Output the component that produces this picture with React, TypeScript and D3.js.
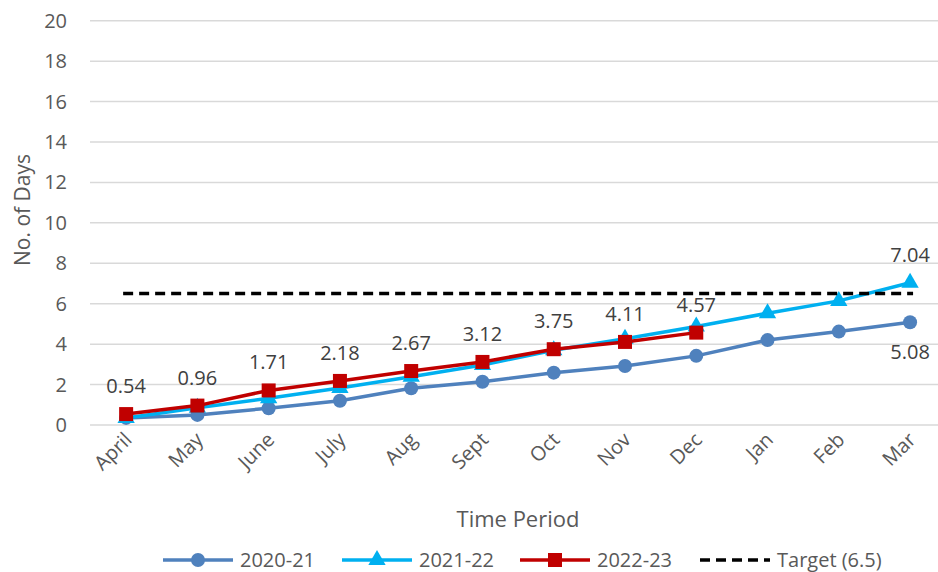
import React from "react";
import * as d3 from "d3";

const months = ["April", "May", "June", "July", "Aug", "Sept", "Oct", "Nov", "Dec", "Jan", "Feb", "Mar"];
const s2020: number[] = [0.35, 0.5, 0.83, 1.2, 1.82, 2.14, 2.59, 2.92, 3.42, 4.2, 4.62, 5.08];
const s2021: number[] = [0.35, 0.85, 1.32, 1.83, 2.39, 2.97, 3.7, 4.27, 4.87, 5.53, 6.14, 7.04];
const s2022: number[] = [0.54, 0.96, 1.71, 2.18, 2.67, 3.12, 3.75, 4.11, 4.57];
const target = 6.5;
const yTicks = [0, 2, 4, 6, 8, 10, 12, 14, 16, 18, 20];
const legendLabels = ["2020-21", "2021-22", "2022-23", "Target (6.5)"];

const W = 938, H = 572;
const FONT = "'Open Sans', sans-serif";
const TXT = "#595959";
const C_BLUE = "#4F81BD", C_CYAN = "#00B0F0", C_RED = "#C00000";

export default function App() {
  const x = d3.scaleBand<string>().domain(months).range([90.5, 945.7]);
  const cx = (m: string) => (x(m) as number) + x.bandwidth() / 2;
  const y = d3.scaleLinear().domain([0, 20]).range([425, 20.7]);
  const line = d3.line<number>().x((_, i) => cx(months[i])).y((d) => y(d));

  const tri = d3.symbol().type(d3.symbolTriangle).size(130)() as string;

  return (
    <svg width={W} height={H} style={{ position: "absolute", left: 0, top: 0, background: "#fff" }} fontFamily={FONT}>
      {/* gridlines */}
      {yTicks.map((t) => (
        <line key={t} x1={90} x2={W} y1={y(t)} y2={y(t)} stroke="#D9D9D9" strokeWidth={1.5} />
      ))}
      {/* y tick labels */}
      {yTicks.map((t) => (
        <text key={"yl" + t} x={67} y={y(t)} dy="0.35em" textAnchor="end" fontSize={20} fill={TXT}>
          {t}
        </text>
      ))}
      <text transform={`translate(23,210) rotate(-90)`} textAnchor="middle" dy="0.35em" fontSize={21} fill={TXT}>
        No. of Days
      </text>
      {/* x tick labels */}
      {months.map((m) => (
        <text key={m} transform={`translate(${cx(m) + 7},${441}) rotate(-45)`} textAnchor="end" fontSize={20} fill={TXT}>
          {m}
        </text>
      ))}
      <text x={518} y={519} dy="0.35em" textAnchor="middle" fontSize={22} fill={TXT}>
        Time Period
      </text>

      {/* 2020-21 */}
      <path d={line(s2020) as string} fill="none" stroke={C_BLUE} strokeWidth={3.5} strokeLinejoin="round" />
      {s2020.map((v, i) => (
        <circle key={"b" + i} cx={cx(months[i])} cy={y(v)} r={7} fill={C_BLUE} />
      ))}
      {/* 2021-22 */}
      <path d={line(s2021) as string} fill="none" stroke={C_CYAN} strokeWidth={3.5} strokeLinejoin="round" />
      {s2021.map((v, i) => (
        <path key={"c" + i} d={tri} transform={`translate(${cx(months[i])},${y(v)})`} fill={C_CYAN} />
      ))}
      {/* 2022-23 */}
      <path d={line(s2022) as string} fill="none" stroke={C_RED} strokeWidth={3.5} strokeLinejoin="round" />
      {s2022.map((v, i) => (
        <rect key={"r" + i} x={cx(months[i]) - 7} y={y(v) - 7} width={14} height={14} fill={C_RED} />
      ))}
      {/* target */}
      <line x1={cx(months[0]) - 3} x2={cx(months[11]) + 3} y1={y(target)} y2={y(target)} stroke="#000" strokeWidth={3.5} strokeDasharray="10 6" />

      {/* data labels */}
      {s2022.map((v, i) => (
        <text key={"l" + i} x={cx(months[i])} y={y(v) - 28} dy="0.35em" textAnchor="middle" fontSize={20} fill="#404040">
          {v.toFixed(2)}
        </text>
      ))}
      <text x={cx("Mar")} y={y(s2021[11]) - 28} dy="0.35em" textAnchor="middle" fontSize={20} fill="#404040">
        {s2021[11].toFixed(2)}
      </text>
      <text x={cx("Mar")} y={y(s2020[11]) + 30} dy="0.35em" textAnchor="middle" fontSize={20} fill="#404040">
        {s2020[11].toFixed(2)}
      </text>

      {/* legend */}
      {(() => {
        const items = [
          { x: 163, color: C_BLUE, kind: "circle" },
          { x: 342, color: C_CYAN, kind: "tri" },
          { x: 520, color: C_RED, kind: "rect" },
          { x: 700, color: "#000", kind: "dash" },
        ];
        const ly = 560;
        return items.map((it, i) => (
          <g key={"lg" + i}>
            {it.kind === "dash" ? (
              <line x1={it.x} x2={it.x + 70} y1={ly} y2={ly} stroke="#000" strokeWidth={3.5} strokeDasharray="10 6" />
            ) : (
              <line x1={it.x} x2={it.x + 70} y1={ly} y2={ly} stroke={it.color} strokeWidth={3.5} />
            )}
            {it.kind === "circle" && <circle cx={it.x + 35} cy={ly} r={7} fill={it.color} />}
            {it.kind === "tri" && <path d={tri} transform={`translate(${it.x + 35},${ly})`} fill={it.color} />}
            {it.kind === "rect" && <rect x={it.x + 28} y={ly - 7} width={14} height={14} fill={it.color} />}
            <text x={it.x + 77} y={ly} dy="0.35em" fontSize={20} fill={TXT}>
              {legendLabels[i]}
            </text>
          </g>
        ));
      })()}
    </svg>
  );
}
